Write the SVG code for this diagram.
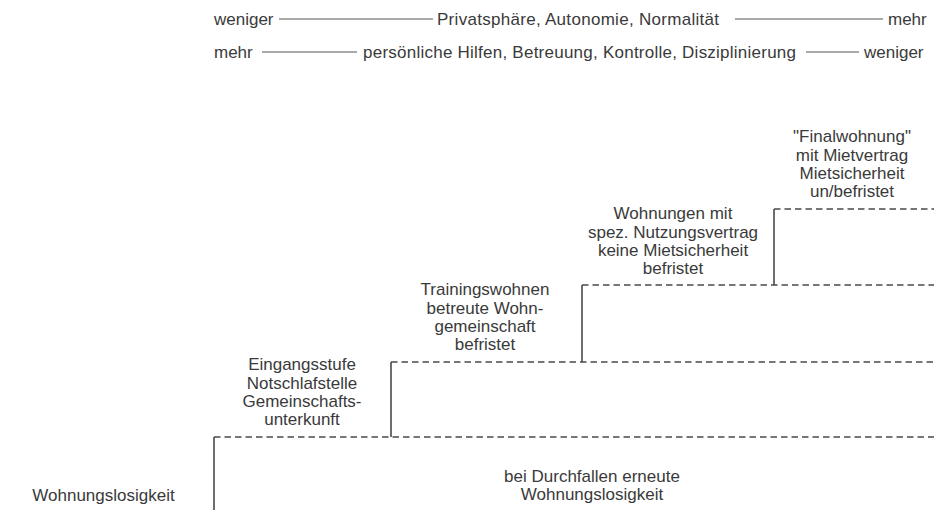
<svg xmlns="http://www.w3.org/2000/svg" width="934" height="510" viewBox="0 0 934 510">
<style>
text{font-family:"Liberation Sans",Arial,sans-serif;font-size:17px;fill:#3a3a3a}
.c{text-anchor:middle}
.solid{stroke:#555;stroke-width:1;fill:none}
.step{stroke:#4a4a4a;stroke-width:1.6;fill:none}
.dash{stroke:#4a4a4a;stroke-width:1.4;fill:none;stroke-dasharray:6.5 4}
</style>
<rect width="934" height="510" fill="#fff"/>
<g id="scale-top">
<text x="214" y="25">weniger</text>
<text x="437" y="25" textLength="282">Privatsphäre, Autonomie, Normalität</text>
<text x="888" y="25">mehr</text>
<line class="solid" x1="279" y1="19" x2="433" y2="19"/>
<line class="solid" x1="735" y1="19" x2="883" y2="19"/>
</g>
<g id="scale-bottom">
<text x="214" y="58">mehr</text>
<text x="363" y="58" textLength="433">persönliche Hilfen, Betreuung, Kontrolle, Disziplinierung</text>
<text x="864" y="58">weniger</text>
<line class="solid" x1="262" y1="52" x2="357" y2="52"/>
<line class="solid" x1="806" y1="52" x2="859" y2="52"/>
</g>
<g id="connectors">
<line class="step" x1="214" y1="437" x2="214" y2="510"/>
<line class="dash" x1="214" y1="437" x2="934" y2="437"/>
<line class="step" x1="391" y1="362" x2="391" y2="437"/>
<line class="dash" x1="391" y1="362" x2="934" y2="362"/>
<line class="step" x1="582" y1="285" x2="582" y2="362"/>
<line class="dash" x1="582" y1="285" x2="934" y2="285"/>
<line class="step" x1="774" y1="209" x2="774" y2="285"/>
<line class="dash" x1="774" y1="209" x2="934" y2="209"/>
</g>
<g id="wohnungslosigkeit">
<text class="c" x="103.5" y="501">Wohnungslosigkeit</text>
</g>
<g id="durchfallen">
<text class="c" x="592" y="482">bei Durchfallen erneute</text>
<text class="c" x="592" y="500">Wohnungslosigkeit</text>
</g>
<g id="eingangsstufe">
<text class="c" x="302" y="370">Eingangsstufe</text>
<text class="c" x="302" y="388.5">Notschlafstelle</text>
<text class="c" x="302" y="407">Gemeinschafts-</text>
<text class="c" x="302" y="425">unterkunft</text>
</g>
<g id="trainingswohnen">
<text class="c" x="485" y="295">Trainingswohnen</text>
<text class="c" x="485" y="313.5">betreute Wohn-</text>
<text class="c" x="485" y="332">gemeinschaft</text>
<text class="c" x="485" y="350">befristet</text>
</g>
<g id="wohnungen">
<text class="c" x="673" y="219">Wohnungen mit</text>
<text class="c" x="673" y="237.5">spez. Nutzungsvertrag</text>
<text class="c" x="673" y="256">keine Mietsicherheit</text>
<text class="c" x="673" y="274">befristet</text>
</g>
<g id="finalwohnung">
<text class="c" x="852" y="142">"Finalwohnung"</text>
<text class="c" x="852" y="160.5">mit Mietvertrag</text>
<text class="c" x="852" y="179">Mietsicherheit</text>
<text class="c" x="852" y="197">un/befristet</text>
</g>
</svg>
